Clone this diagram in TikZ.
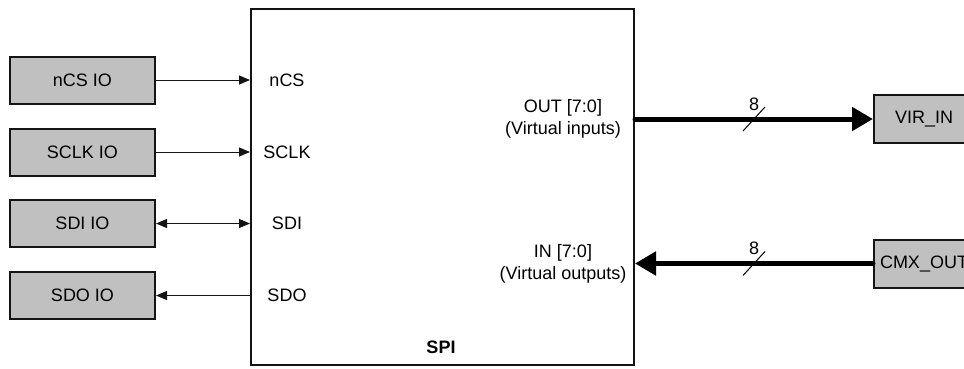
\documentclass[tikz,border=0pt]{standalone}
\usepackage{fontspec}
\setmainfont{Liberation Sans}
\usetikzlibrary{arrows.meta}
\definecolor{boxgray}{RGB}{192,192,192}
\definecolor{edge}{RGB}{20,20,20}
\begin{document}
\begin{tikzpicture}[x=1pt,y=-1pt,
  iobox/.style={draw=edge,fill=boxgray,line width=2pt,minimum width=145pt,minimum height=47pt,inner sep=0pt,font=\fontsize{18}{22}\selectfont},
  extbox/.style={iobox,minimum width=100pt,minimum height=48pt},
  port/.style={inner sep=0pt,font=\fontsize{18}{22}\selectfont},
  sig/.style={draw=edge,line width=1pt,-{Triangle[length=11pt,width=9pt]}},
  sigboth/.style={draw=edge,line width=1pt,{Triangle[length=11pt,width=9pt]}-{Triangle[length=11pt,width=9pt]}},
  bus/.style={draw=black,line width=5pt,line cap=round,-{Triangle[length=21pt,width=23pt]}},
  tick/.style={draw=black,line width=1pt},
]
\path[use as bounding box] (0,0) rectangle (964,368);
\fill[white] (0,0) rectangle (964,368);
\node[draw=edge,line width=2pt,minimum width=383pt,minimum height=356pt,inner sep=0pt] (spi) at (442.5,187) {};
\node[port,font=\fontsize{18}{22}\selectfont\bfseries] (spilbl) at (441,347) {SPI};
\node[iobox] (ncsio) at (82.5,80) {nCS IO};
\node[iobox] (sclkio) at (82.5,152) {SCLK IO};
\node[iobox] (sdiio) at (82.5,223.5) {SDI IO};
\node[iobox] (sdoio) at (82.5,295.5) {SDO IO};
\node[port] (ncs) at (287,80) {nCS};
\node[port] (sclk) at (287,152) {SCLK};
\node[port] (sdi) at (287,223.5) {SDI};
\node[port] (sdo) at (287,295.5) {SDO};
\draw[sig] (ncsio.east) -- (ncsio.east -| spi.west);
\draw[sig] (sclkio.east) -- (sclkio.east -| spi.west);
\draw[sigboth] (sdiio.east) -- (sdiio.east -| spi.west);
\draw[sig] (sdoio.east -| spi.west) -- (sdoio.east);
\node[port,align=center] (outport) at (563,119) {OUT [7:0]\\(Virtual inputs)};
\node[port,align=center] (inport) at (563,263.5) {IN [7:0]\\(Virtual outputs)};
\node[extbox] (virin) at (924,119) {VIR\_IN};
\node[extbox] (cmxout) at (924,263.5) {CMX\_OUT};
\draw[bus] (virin.west -| spi.east) -- (virin.west);
\draw[bus] (cmxout.west) -- (cmxout.west -| spi.east);
\coordinate (tapa) at (754,119);
\coordinate (tapb) at (754,263.5);
\draw[tick] ([shift={(-11,12)}]tapa) -- ([shift={(11,-12)}]tapa);
\draw[tick] ([shift={(-11,12)}]tapb) -- ([shift={(11,-12)}]tapb);
\node[port] (widtha) at (754,104) {8};
\node[port] (widthb) at (754,248) {8};
\end{tikzpicture}
\end{document}
